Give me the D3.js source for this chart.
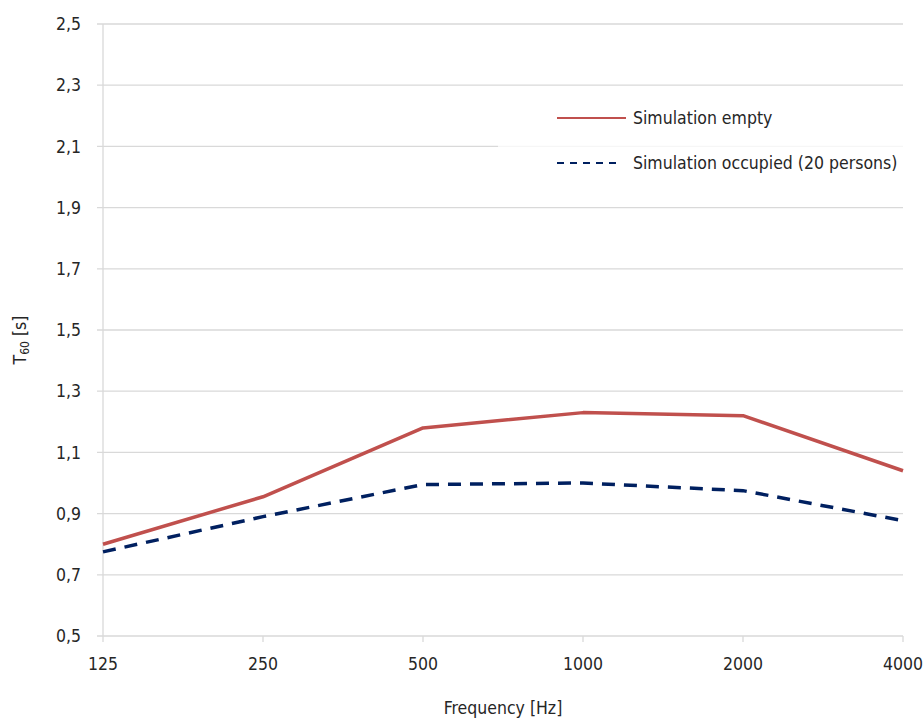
<!DOCTYPE html>
<html><head><meta charset="utf-8">
<script src="https://cdn.jsdelivr.net/npm/d3@7"></script>
<style>
body{margin:0;background:#fff;}
text{font-family:"Liberation Sans Narrow","DejaVu Sans Condensed","Roboto Condensed",sans-serif;font-stretch:condensed;fill:#262626;}
</style></head><body>
<svg id="c" width="924" height="718"></svg>
<script>
const categories = ["125","250","500","1000","2000","4000"];
const emptyValues = [0.80, 0.955, 1.18, 1.23, 1.22, 1.04];
const occupiedValues = [0.775, 0.89, 0.995, 1.0, 0.975, 0.877];
const yTicks = [0.5,0.7,0.9,1.1,1.3,1.5,1.7,1.9,2.1,2.3,2.5];
const seriesNames = ["Simulation empty","Simulation occupied (20 persons)"];

const svg = d3.select("#c");
const m = {l:103, r:903, t:24, b:636};
const x = d3.scalePoint().domain(categories).range([m.l, m.r]);
const y = d3.scaleLinear().domain([0.5,2.5]).range([m.b, m.t]);
const fmt = d => d.toFixed(1).replace(".", ",");
const fs = 17.5;

svg.append("g").selectAll("line").data(yTicks).join("line")
  .attr("x1", m.l-6).attr("x2", m.r).attr("y1", d=>y(d)).attr("y2", d=>y(d))
  .attr("stroke","#d9d9d9").attr("stroke-width",1.3);
svg.append("line").attr("x1",m.l).attr("x2",m.l).attr("y1",m.t).attr("y2",m.b)
  .attr("stroke","#d9d9d9").attr("stroke-width",1.3);
svg.append("g").selectAll("line").data(categories).join("line")
  .attr("x1", d=>x(d)).attr("x2", d=>x(d)).attr("y1", m.b).attr("y2", m.b+6)
  .attr("stroke","#d9d9d9").attr("stroke-width",1.3);

svg.append("g").selectAll("text").data(yTicks).join("text")
  .attr("x", 81).attr("y", d=>y(d)).attr("dy","0.35em").attr("text-anchor","end")
  .attr("font-size",fs).text(fmt);
svg.append("g").selectAll("text").data(categories).join("text")
  .attr("x", d=>x(d)).attr("y", 670).attr("text-anchor","middle")
  .attr("font-size",fs).text(d=>d);

svg.append("text").attr("x",503).attr("y",714).attr("text-anchor","middle")
  .attr("font-size",fs).text("Frequency  [Hz]");
const yt = svg.append("text").attr("transform","translate(26,340) rotate(-90)")
  .attr("text-anchor","middle").attr("font-size",fs);
yt.append("tspan").text("T");
yt.append("tspan").attr("font-size",12).attr("dy",3).text("60");
yt.append("tspan").attr("dy",-3).text(" [s]");

const line = d3.line().x((d,i)=>x(categories[i])).y(d=>y(d));
svg.append("path").datum(emptyValues).attr("d",line).attr("fill","none")
  .attr("stroke","#c0504d").attr("stroke-width",3.5).attr("stroke-linejoin","round");
svg.append("path").datum(occupiedValues).attr("d",line).attr("fill","none")
  .attr("stroke","#002060").attr("stroke-width",3.5).attr("stroke-dasharray","13,9");

const lg = svg.append("g");
lg.append("rect").attr("x",498).attr("y",98).attr("width",405).attr("height",94)
  .attr("fill","#fff").attr("opacity",0.75);
lg.append("line").attr("x1",557).attr("x2",626).attr("y1",118).attr("y2",118)
  .attr("stroke","#c0504d").attr("stroke-width",2);
lg.append("text").attr("x",633).attr("y",118).attr("dy","0.35em").attr("font-size",fs).text(seriesNames[0]);
lg.append("line").attr("x1",557).attr("x2",622).attr("y1",163).attr("y2",163)
  .attr("stroke","#002060").attr("stroke-width",2).attr("stroke-dasharray","7,6");
lg.append("text").attr("x",633).attr("y",163).attr("dy","0.35em").attr("font-size",fs).text(seriesNames[1]);
</script></body></html>
